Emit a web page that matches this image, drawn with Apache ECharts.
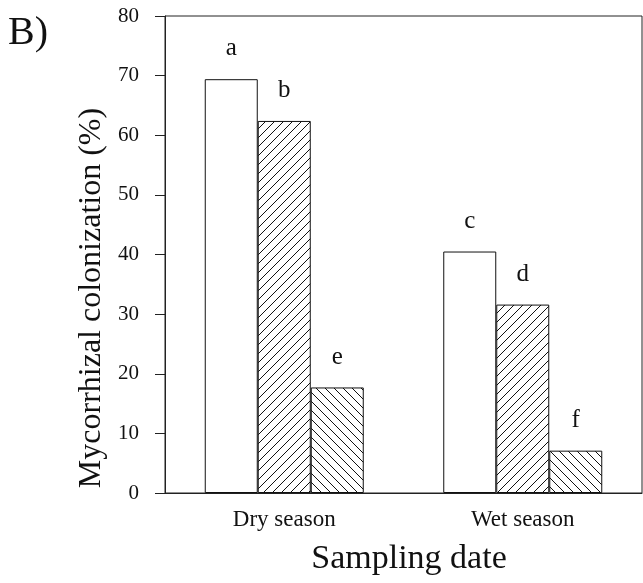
<!DOCTYPE html>
<html>
<head>
<meta charset="utf-8">
<script src="https://cdn.jsdelivr.net/npm/echarts@6/dist/echarts.min.js"></script>
<style>
html,body{margin:0;padding:0;background:#fff;}
#chart{width:643px;height:583px;}
</style>
</head>
<body>
<div id="chart"></div>
<script>
const categories = ['Dry season', 'Wet season'];
const yTicks = [0, 10, 20, 30, 40, 50, 60, 70, 80];
const series1 = [69.4, 40.5];
const series2 = [62.4, 31.6];
const series3 = [17.7, 7.1];
const letters1 = ['a', 'c'];
const letters2 = ['b', 'd'];
const letters3 = ['e', 'f'];

const FONT = '"Liberation Serif", "Times New Roman", serif';

function hatch(dir) {
  const s = 9;
  const c = document.createElement('canvas');
  c.width = s; c.height = s;
  const g = c.getContext('2d');
  g.fillStyle = '#fff';
  g.fillRect(0, 0, s, s);
  g.strokeStyle = '#111';
  g.lineWidth = 1;
  g.beginPath();
  if (dir === '/') {
    g.moveTo(-1, 1); g.lineTo(1, -1);
    g.moveTo(0, s); g.lineTo(s, 0);
    g.moveTo(s - 1, s + 1); g.lineTo(s + 1, s - 1);
  } else {
    g.moveTo(-1, s - 1); g.lineTo(1, s + 1);
    g.moveTo(0, 0); g.lineTo(s, s);
    g.moveTo(s - 1, -1); g.lineTo(s + 1, 1);
  }
  g.stroke();
  return { image: c, repeat: 'repeat' };
}

function makeSeries(name, values, letters, fill) {
  return {
    name: name,
    type: 'bar',
    barWidth: 53,
    barGap: '0%',
    data: values,
    itemStyle: { color: fill, borderColor: '#111', borderWidth: 1 },
    label: {
      show: true,
      position: 'top',
      distance: 18,
      formatter: p => letters[p.dataIndex],
      fontFamily: FONT,
      fontSize: 25,
      color: '#111'
    },
    emphasis: { disabled: true }
  };
}

const chart = echarts.init(document.getElementById('chart'), null, { renderer: 'canvas' });
chart.setOption({
  animation: false,
  backgroundColor: '#fff',
  grid: {
    left: 165, right: 1, top: 16, bottom: 90,
    show: true, borderColor: '#222', borderWidth: 1, backgroundColor: 'transparent'
  },
  xAxis: {
    type: 'category',
    data: categories,
    axisLine: { lineStyle: { color: '#222', width: 1 } },
    axisTick: { show: false },
    axisLabel: { fontFamily: FONT, fontSize: 23, color: '#111', margin: 15 }
  },
  yAxis: {
    type: 'value',
    min: yTicks[0],
    max: yTicks[yTicks.length - 1],
    interval: 10,
    splitLine: { show: false },
    axisLine: { show: true, lineStyle: { color: '#222', width: 1 } },
    axisTick: { show: true, inside: false, length: 10, lineStyle: { color: '#222' } },
    axisLabel: { fontFamily: FONT, fontSize: 21, color: '#111', margin: 26 }
  },
  series: [
    makeSeries('Group 1', series1, letters1, '#fff'),
    makeSeries('Group 2', series2, letters2, hatch('/')),
    makeSeries('Group 3', series3, letters3, hatch('\\'))
  ],
  graphic: [
    {
      type: 'text',
      x: 8, y: 33,
      style: { text: 'B)', font: '40px ' + FONT, fill: '#111', textAlign: 'left', textVerticalAlign: 'middle' }
    },
    {
      type: 'text',
      x: 92, y: 298,
      rotation: Math.PI / 2,
      style: { text: 'Mycorrhizal colonization (%)', font: '32px ' + FONT, fill: '#111', textAlign: 'center', textVerticalAlign: 'middle' }
    },
    {
      type: 'text',
      x: 409, y: 559,
      style: { text: 'Sampling date', font: '34px ' + FONT, fill: '#111', textAlign: 'center', textVerticalAlign: 'middle' }
    }
  ]
});
</script>
</body>
</html>
